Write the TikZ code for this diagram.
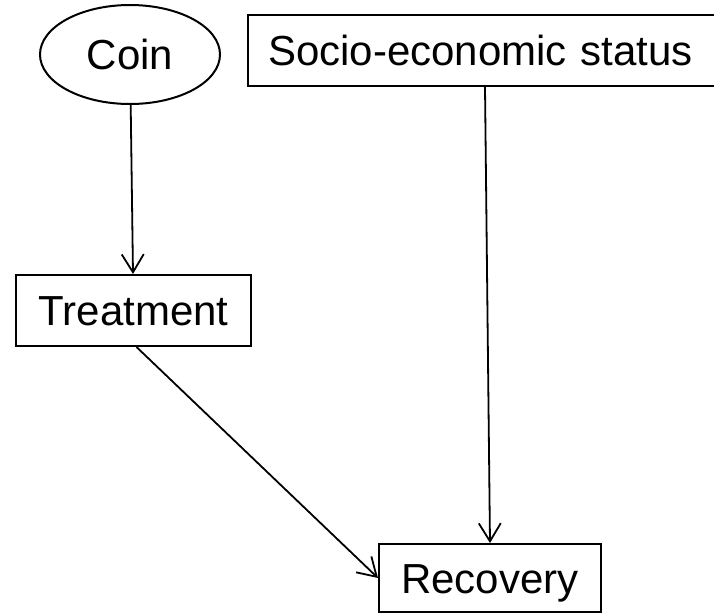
\documentclass[tikz,border=0pt]{standalone}
\usepackage{fontspec}
\setmainfont{Liberation Sans}
\usetikzlibrary{shapes.geometric,arrows.meta}
\begin{document}
\begin{tikzpicture}[x=1pt,y=-1pt,
  every node/.style={font=\fontsize{42}{50}\selectfont, text height=30pt, text depth=0pt},
  boxnode/.style={draw, line width=2pt, rectangle, inner sep=0pt},
  ellnode/.style={draw, line width=2pt, ellipse, inner sep=0pt, minimum width=180pt, minimum height=99pt},
  arr/.style={line width=1.8pt, -{Straight Barb[length=18pt,width=22pt]}}]
\useasboundingbox (0,0) rectangle (714,614);
\node[ellnode] (coin) at (130,54.5) {Coin};
\node[boxnode, anchor=west, text width=460pt, align=left, inner xsep=20pt, minimum height=71pt] (socio) at (247,50.5) {Socio-economic status};
\node[boxnode, minimum width=235pt, minimum height=71pt] (treat) at (133.5,310.5) {Treatment};
\node[boxnode, minimum width=222pt, minimum height=68pt] (recov) at (490,578) {Recovery};
\draw[arr] (coin) -- (treat);
\draw[arr] ([xshift=-5pt]socio.south -| recov.north) -- (recov.north);
\draw[arr] ([xshift=3pt]treat.south) -- (recov.west);
\end{tikzpicture}
\end{document}
